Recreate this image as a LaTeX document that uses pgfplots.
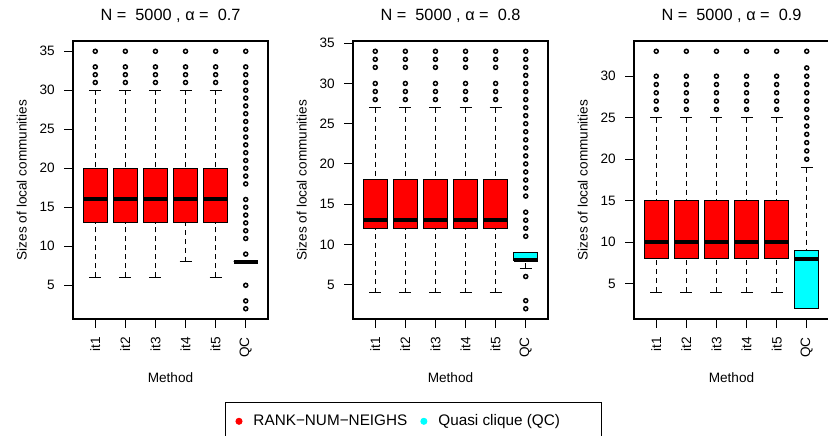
\documentclass[border=0pt]{standalone}
\usepackage{fontspec}
\setmainfont{Liberation Sans}
\usepackage{pgfplots}
\pgfplotsset{compat=1.18}
\usepgfplotslibrary{statistics}
\definecolor{rred}{RGB}{255,0,0}
\definecolor{rcyan}{RGB}{0,255,255}
\newcommand\axfont{\fontsize{13.6pt}{16pt}\selectfont}
\newcommand\titfont{\fontsize{16.3pt}{19pt}\selectfont}
\newcommand\legfont{\fontsize{15.3pt}{18pt}\selectfont}
\tikzset{rwhisker/.style={black, line width=1pt, dash pattern=on 5pt off 4pt},
         rcap/.style={black, line width=1pt, solid}}
\pgfplotsset{
  boxplot/draw/lower whisker/.code={%
    \draw[rwhisker] (boxplot whisker cs:\pgfplotsboxplotvalue{lower whisker},0.5) -- (boxplot whisker cs:\pgfplotsboxplotvalue{lower quartile},0.5);
    \draw[rcap] (boxplot whisker cs:\pgfplotsboxplotvalue{lower whisker},0) -- (boxplot whisker cs:\pgfplotsboxplotvalue{lower whisker},1);
  },
  boxplot/draw/upper whisker/.code={%
    \draw[rwhisker] (boxplot whisker cs:\pgfplotsboxplotvalue{upper whisker},0.5) -- (boxplot whisker cs:\pgfplotsboxplotvalue{upper quartile},0.5);
    \draw[rcap] (boxplot whisker cs:\pgfplotsboxplotvalue{upper whisker},0) -- (boxplot whisker cs:\pgfplotsboxplotvalue{upper whisker},1);
  },
  panel/.style={
    scale only axis, width=195pt, height=278pt, anchor=south west,
    xmin=0.26, xmax=6.74,
    xtick={1,2,3,4,5,6}, xticklabels={it1,it2,it3,it4,it5,QC},
    tick pos=left, tick align=outside, major tick length=9pt,
    major tick style={black, line width=1pt},
    axis line style={black, line width=1.2pt},
    /pgf/number format/assume math mode=true,
    tick label style={font=\axfont},
    xticklabel style={rotate=90, anchor=east, inner sep=0pt},
    yticklabel style={anchor=east, inner sep=0pt},
    xticklabel shift=9pt, yticklabel shift=9pt,
    xlabel={Method}, ylabel={Sizes of local communities},
    every axis x label/.style={at={(0.5,-0.2302)}, anchor=base, font=\axfont},
    every axis y label/.style={at={(-0.2374,0.5)}, rotate=90, anchor=base, font=\axfont},
    every axis title/.style={at={(0.5,1.073)}, anchor=base, font=\titfont},
    boxplot/draw direction=y,
    boxplot/box extend=0.8, boxplot/whisker extend=0.4,
    boxplot/every median/.style={black, line width=4pt},
  },
  itbox/.style={black, line width=1pt, mark=o, mark size=2pt,
    mark options={solid, black, line width=1.5pt},
    boxplot/draw direction=y,
    boxplot/every box/.style={fill=rred, draw=black, line width=1pt}},
  qcbox/.style={black, line width=1pt, mark=o, mark size=2pt,
    mark options={solid, black, line width=1.5pt},
    boxplot/draw direction=y,
    boxplot/every box/.style={fill=rcyan, draw=black, line width=1pt}},
}
\begin{document}
\begin{tikzpicture}
\useasboundingbox (0pt,0pt) rectangle (828pt,436pt);
% ---------------- Panel 1 ----------------
\begin{axis}[panel, at={(73pt,117pt)},
  ymin=0.68, ymax=36.32, ytick={5,10,15,20,25,30,35},
  title={N =\ \ 5000 , α =\ \ 0.7},
  legend columns=2,
  legend style={at={(0.7795,-0.2986)}, anchor=north west, draw=black, line width=1pt,
    fill=white, inner xsep=10pt, inner ysep=12pt, font=\legfont,
    cells={anchor=base west}, nodes={inner sep=0pt},
    /tikz/every odd column/.append style={column sep=11pt},
    /tikz/every even column/.append style={column sep=13pt}},
]
\addlegendimage{legend image code/.code={\fill[rred] (0pt,4.3pt) circle (3pt);}}
\addlegendentry{RANK−NUM−NEIGHS}
\addlegendimage{legend image code/.code={\fill[rcyan] (0pt,4.3pt) circle (3pt);}}
\addlegendentry{\makebox[153pt][l]{Quasi clique (QC)}}
\addplot[itbox, boxplot prepared={draw position=1, lower whisker=6, lower quartile=13, median=16, upper quartile=20, upper whisker=30}]
  coordinates {(1,31)(1,32)(1,33)(1,35)};
\addplot[itbox, boxplot prepared={draw position=2, lower whisker=6, lower quartile=13, median=16, upper quartile=20, upper whisker=30}]
  coordinates {(2,31)(2,32)(2,33)(2,35)};
\addplot[itbox, boxplot prepared={draw position=3, lower whisker=6, lower quartile=13, median=16, upper quartile=20, upper whisker=30}]
  coordinates {(3,31)(3,32)(3,33)(3,35)};
\addplot[itbox, boxplot prepared={draw position=4, lower whisker=8, lower quartile=13, median=16, upper quartile=20, upper whisker=30}]
  coordinates {(4,31)(4,32)(4,33)(4,35)};
\addplot[itbox, boxplot prepared={draw position=5, lower whisker=6, lower quartile=13, median=16, upper quartile=20, upper whisker=30}]
  coordinates {(5,31)(5,32)(5,33)(5,35)};
\addplot[qcbox, boxplot prepared={draw position=6, lower whisker=8, lower quartile=8, median=8, upper quartile=8, upper whisker=8}]
  coordinates {(6,2)(6,3)(6,5)(6,9)(6,11)(6,12)(6,13)(6,14)(6,15)(6,16)
  (6,18)(6,19)(6,20)(6,21)(6,22)(6,23)(6,24)(6,25)(6,26)(6,27)(6,28)(6,29)(6,30)(6,31)(6,32)(6,33)(6,35)};
\end{axis}
% ---------------- Panel 2 ----------------
\begin{axis}[panel, at={(353pt,117pt)},
  ymin=0.72, ymax=35.28, ytick={5,10,15,20,25,30,35},
  title={N =\ \ 5000 , α =\ \ 0.8},
]
\addplot[itbox, boxplot prepared={draw position=1, lower whisker=4, lower quartile=12, median=13, upper quartile=18, upper whisker=27}]
  coordinates {(1,28)(1,29)(1,30)(1,32)(1,33)(1,34)};
\addplot[itbox, boxplot prepared={draw position=2, lower whisker=4, lower quartile=12, median=13, upper quartile=18, upper whisker=27}]
  coordinates {(2,28)(2,29)(2,30)(2,32)(2,33)(2,34)};
\addplot[itbox, boxplot prepared={draw position=3, lower whisker=4, lower quartile=12, median=13, upper quartile=18, upper whisker=27}]
  coordinates {(3,28)(3,29)(3,30)(3,32)(3,33)(3,34)};
\addplot[itbox, boxplot prepared={draw position=4, lower whisker=4, lower quartile=12, median=13, upper quartile=18, upper whisker=27}]
  coordinates {(4,28)(4,29)(4,30)(4,32)(4,33)(4,34)};
\addplot[itbox, boxplot prepared={draw position=5, lower whisker=4, lower quartile=12, median=13, upper quartile=18, upper whisker=27}]
  coordinates {(5,28)(5,29)(5,30)(5,32)(5,33)(5,34)};
\addplot[qcbox, boxplot prepared={draw position=6, lower whisker=7, lower quartile=8, median=8, upper quartile=9, upper whisker=9}]
  coordinates {(6,2)(6,3)(6,6)(6,11)(6,12)(6,13)(6,14)(6,16)(6,17)(6,18)(6,19)(6,20)(6,21)(6,22)
  (6,23)(6,24)(6,25)(6,26)(6,27)(6,28)(6,29)(6,30)(6,31)(6,32)(6,33)(6,34)};
\end{axis}
% ---------------- Panel 3 ----------------
\begin{axis}[panel, at={(634pt,117pt)},
  ymin=0.76, ymax=34.24, ytick={5,10,15,20,25,30},
  title={N =\ \ 5000 , α =\ \ 0.9},
]
\addplot[itbox, boxplot prepared={draw position=1, lower whisker=4, lower quartile=8, median=10, upper quartile=15, upper whisker=25}]
  coordinates {(1,26)(1,27)(1,28)(1,29)(1,30)(1,33)};
\addplot[itbox, boxplot prepared={draw position=2, lower whisker=4, lower quartile=8, median=10, upper quartile=15, upper whisker=25}]
  coordinates {(2,26)(2,27)(2,28)(2,29)(2,30)(2,33)};
\addplot[itbox, boxplot prepared={draw position=3, lower whisker=4, lower quartile=8, median=10, upper quartile=15, upper whisker=25}]
  coordinates {(3,26)(3,27)(3,28)(3,29)(3,30)(3,33)};
\addplot[itbox, boxplot prepared={draw position=4, lower whisker=4, lower quartile=8, median=10, upper quartile=15, upper whisker=25}]
  coordinates {(4,26)(4,27)(4,28)(4,29)(4,30)(4,33)};
\addplot[itbox, boxplot prepared={draw position=5, lower whisker=4, lower quartile=8, median=10, upper quartile=15, upper whisker=25}]
  coordinates {(5,26)(5,27)(5,28)(5,29)(5,30)(5,33)};
\addplot[qcbox, boxplot prepared={draw position=6, lower whisker=2, lower quartile=2, median=8, upper quartile=9, upper whisker=19}]
  coordinates {(6,20)(6,21)(6,22)(6,23)(6,24)(6,25)(6,26)(6,27)(6,28)(6,29)(6,30)(6,31)(6,33)};
\end{axis}
\end{tikzpicture}
\end{document}
